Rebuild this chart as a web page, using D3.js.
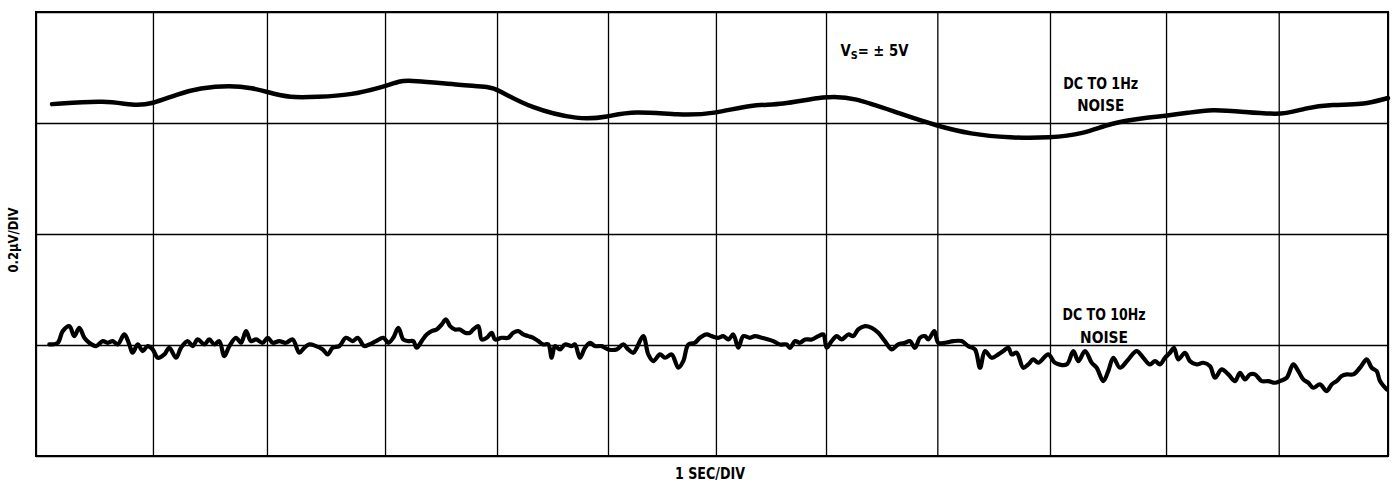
<!DOCTYPE html>
<html>
<head>
<meta charset="utf-8">
<script src="https://cdn.jsdelivr.net/npm/d3@7"></script>
<style>
  html, body { margin: 0; padding: 0; background: #fff; }
  svg { display: block; }
  text { font-family: "Liberation Sans Narrow", "Arial Narrow", "DejaVu Sans Condensed", "Liberation Sans", Arial, sans-serif; font-weight: bold; fill: #000; }
</style>
</head>
<body>
<svg id="chart" width="1392" height="485"></svg>
<script>
// ---- Data (time in seconds, 1 SEC/DIV; voltage in µV, 0.2µV/DIV) ----
const gridTimes = [0, 1.038, 2.05, 3.098, 4.092, 5.077, 6.035, 7.012, 8.0, 9.0, 10.03, 11.03, 12];
const gridVolts = [-0.4, -0.2, 0, 0.2, 0.4];

// DC to 1Hz noise trace
const lf_t = [0.142,0.630,0.861,1.030,1.251,1.456,1.722,1.926,2.050,2.254,2.494,2.787,3.080,3.231,3.319,3.790,4.029,4.092,4.384,4.828,5.068,5.299,5.716,6.009,6.364,6.603,7.012,7.251,7.677,7.997,8.290,8.645,9.000,9.293,9.541,9.825,10.030,10.216,10.438,10.722,11.077,11.254,11.512,11.760,12.0];
const lf_v = [0.234,0.241,0.231,0.234,0.252,0.263,0.268,0.263,0.256,0.245,0.247,0.250,0.265,0.276,0.277,0.268,0.265,0.261,0.227,0.205,0.211,0.222,0.214,0.216,0.234,0.232,0.249,0.247,0.216,0.195,0.180,0.173,0.173,0.180,0.200,0.209,0.213,0.218,0.225,0.220,0.214,0.227,0.234,0.232,0.245];

// DC to 10Hz noise trace
const hf_t = [0.118,0.193,0.237,0.296,0.340,0.384,0.429,0.473,0.533,0.592,0.636,0.681,0.725,0.784,0.828,0.858,0.903,0.947,0.991,1.036,1.080,1.139,1.183,1.243,1.287,1.346,1.391,1.435,1.494,1.538,1.583,1.627,1.671,1.716,1.775,1.820,1.864,1.908,1.953,2.012,2.057,2.101,2.159,2.219,2.278,2.337,2.381,2.426,2.485,2.545,2.589,2.633,2.692,2.751,2.811,2.855,2.914,2.958,3.018,3.083,3.127,3.171,3.216,3.260,3.304,3.349,3.379,3.423,3.468,3.512,3.556,3.601,3.639,3.675,3.719,3.763,3.808,3.852,3.881,3.926,3.956,4.000,4.045,4.074,4.133,4.192,4.236,4.281,4.325,4.369,4.414,4.458,4.503,4.547,4.577,4.606,4.651,4.695,4.755,4.784,4.828,4.873,4.917,4.962,5.021,5.080,5.154,5.213,5.257,5.302,5.332,5.390,5.435,5.479,5.538,5.583,5.642,5.701,5.745,5.790,5.849,5.893,5.953,5.997,6.056,6.100,6.145,6.189,6.233,6.278,6.337,6.382,6.441,6.500,6.544,6.604,6.663,6.692,6.737,6.781,6.826,6.885,6.944,6.988,7.018,7.062,7.107,7.151,7.210,7.254,7.298,7.358,7.417,7.476,7.535,7.595,7.653,7.713,7.757,7.802,7.846,7.890,7.920,7.973,8.008,8.068,8.142,8.216,8.275,8.334,8.379,8.423,8.482,8.541,8.585,8.630,8.660,8.704,8.763,8.807,8.851,8.896,8.985,9.044,9.148,9.207,9.251,9.311,9.370,9.414,9.473,9.517,9.562,9.621,9.695,9.769,9.828,9.887,9.932,9.976,10.020,10.065,10.100,10.139,10.198,10.242,10.302,10.360,10.420,10.464,10.524,10.583,10.642,10.686,10.731,10.775,10.819,10.879,10.937,10.997,11.041,11.101,11.159,11.204,11.248,11.292,11.337,11.396,11.456,11.500,11.544,11.589,11.633,11.692,11.751,11.811,11.855,11.899,11.929,11.988];
const hf_v = [-0.199,-0.196,-0.175,-0.166,-0.184,-0.169,-0.187,-0.196,-0.202,-0.193,-0.196,-0.193,-0.199,-0.181,-0.199,-0.214,-0.199,-0.211,-0.202,-0.208,-0.223,-0.217,-0.205,-0.223,-0.205,-0.193,-0.202,-0.190,-0.199,-0.190,-0.199,-0.193,-0.220,-0.202,-0.187,-0.196,-0.175,-0.193,-0.190,-0.196,-0.187,-0.196,-0.193,-0.196,-0.190,-0.214,-0.205,-0.199,-0.202,-0.208,-0.217,-0.205,-0.202,-0.187,-0.193,-0.187,-0.202,-0.199,-0.193,-0.187,-0.196,-0.187,-0.169,-0.190,-0.193,-0.193,-0.205,-0.193,-0.181,-0.175,-0.172,-0.163,-0.154,-0.166,-0.172,-0.172,-0.178,-0.178,-0.172,-0.166,-0.190,-0.187,-0.178,-0.190,-0.187,-0.187,-0.178,-0.175,-0.181,-0.184,-0.187,-0.193,-0.199,-0.199,-0.223,-0.202,-0.208,-0.199,-0.202,-0.199,-0.223,-0.205,-0.196,-0.202,-0.202,-0.208,-0.208,-0.199,-0.208,-0.214,-0.205,-0.184,-0.217,-0.229,-0.217,-0.223,-0.217,-0.241,-0.229,-0.199,-0.196,-0.187,-0.181,-0.184,-0.187,-0.184,-0.190,-0.181,-0.205,-0.184,-0.187,-0.184,-0.187,-0.190,-0.193,-0.199,-0.199,-0.205,-0.193,-0.196,-0.190,-0.190,-0.184,-0.181,-0.205,-0.193,-0.184,-0.190,-0.181,-0.184,-0.172,-0.166,-0.169,-0.178,-0.193,-0.208,-0.199,-0.196,-0.193,-0.205,-0.187,-0.184,-0.190,-0.175,-0.196,-0.196,-0.193,-0.193,-0.202,-0.208,-0.241,-0.211,-0.223,-0.217,-0.211,-0.205,-0.217,-0.214,-0.241,-0.235,-0.226,-0.232,-0.217,-0.232,-0.235,-0.211,-0.229,-0.211,-0.232,-0.241,-0.265,-0.247,-0.223,-0.241,-0.226,-0.211,-0.223,-0.235,-0.229,-0.235,-0.223,-0.214,-0.205,-0.226,-0.214,-0.229,-0.235,-0.232,-0.238,-0.259,-0.244,-0.253,-0.265,-0.250,-0.262,-0.253,-0.253,-0.265,-0.265,-0.268,-0.265,-0.259,-0.235,-0.247,-0.262,-0.268,-0.277,-0.271,-0.283,-0.271,-0.265,-0.256,-0.253,-0.253,-0.241,-0.226,-0.241,-0.247,-0.265,-0.280];

const xAxisLabel = "1 SEC/DIV";
const yAxisLabel = "0.2\u00B5V/DIV";
const traceLabels = [
  { lines: ["DC TO 1Hz", "NOISE"], t: 9.45, v: [0.261, 0.222], w: [75, 47] },
  { lines: ["DC TO 10Hz", "NOISE"], t: 9.48, v: [-0.155, -0.196], w: [83, 48] }
];
const supplyLabel = { t: 7.14, v: 0.321 };

// ---- Layout ----
const W = 1392, H = 485;
const mLeft = 36, mRight = 1388, mTop = 12, mBottom = 456;

const svg = d3.select("#chart");
svg.append("rect").attr("width", W).attr("height", H).attr("fill", "#fff");

const x = d3.scaleLinear().domain([0, 12]).range([mLeft, mRight]);
const y = d3.scaleLinear().domain([-0.4, 0.4]).range([mBottom, mTop]);

// Grid (via axes)
const gx = svg.append("g")
  .attr("transform", `translate(0,${mBottom})`)
  .call(d3.axisBottom(x).tickValues(gridTimes).tickSize(-(mBottom - mTop)).tickFormat(""));
gx.select(".domain").remove();
gx.selectAll(".tick line").attr("stroke", "#000").attr("stroke-width", 1.3);

const gy = svg.append("g")
  .attr("transform", `translate(${mLeft},0)`)
  .call(d3.axisLeft(y).tickValues(gridVolts).tickSize(-(mRight - mLeft)).tickFormat(""));
gy.select(".domain").remove();
gy.selectAll(".tick line").attr("stroke", "#000").attr("stroke-width", 1.3);

// Border
svg.append("rect")
  .attr("x", mLeft).attr("y", mTop)
  .attr("width", mRight - mLeft).attr("height", mBottom - mTop)
  .attr("fill", "none").attr("stroke", "#000").attr("stroke-width", 2);

// Traces
const lfData = lf_t.map((t, i) => [t, lf_v[i]]);
const hfData = hf_t.map((t, i) => [t, hf_v[i]]);

svg.append("path")
  .datum(lfData)
  .attr("fill", "none").attr("stroke", "#000").attr("stroke-width", 4.5)
  .attr("stroke-linecap", "round").attr("stroke-linejoin", "round")
  .attr("d", d3.line().x(d => x(d[0])).y(d => y(d[1])).curve(d3.curveBasis));

svg.append("path")
  .datum(hfData)
  .attr("fill", "none").attr("stroke", "#000").attr("stroke-width", 4.2)
  .attr("stroke-linecap", "round").attr("stroke-linejoin", "round")
  .attr("d", d3.line().x(d => x(d[0])).y(d => y(d[1])).curve(d3.curveCatmullRom.alpha(0.5)));

// Trace labels
traceLabels.forEach(lab => {
  lab.lines.forEach((s, i) => {
    svg.append("text")
      .attr("x", x(lab.t)).attr("y", y(lab.v[i]))
      .attr("text-anchor", "middle")
      .attr("font-size", 15)
      .attr("textLength", lab.w[i]).attr("lengthAdjust", "spacingAndGlyphs")
      .text(s);
  });
});

// Supply label V_S = ±5V
const sl = svg.append("text")
  .attr("x", x(supplyLabel.t)).attr("y", y(supplyLabel.v))
  .attr("font-size", 15)
  .attr("textLength", 68).attr("lengthAdjust", "spacingAndGlyphs");
sl.append("tspan").text("V");
sl.append("tspan").attr("font-size", 11).attr("dy", 3).text("S");
sl.append("tspan").attr("dy", -3).text("= \u00B1 5V");

// Axis labels
svg.append("text")
  .attr("x", 710).attr("y", 479)
  .attr("text-anchor", "middle").attr("font-size", 15)
  .attr("textLength", 70).attr("lengthAdjust", "spacingAndGlyphs")
  .text(xAxisLabel);

svg.append("text")
  .attr("transform", `translate(18,240) rotate(-90)`)
  .attr("text-anchor", "middle").attr("font-size", 14)
  .attr("textLength", 65).attr("lengthAdjust", "spacingAndGlyphs")
  .text(yAxisLabel);
</script>
</body>
</html>
